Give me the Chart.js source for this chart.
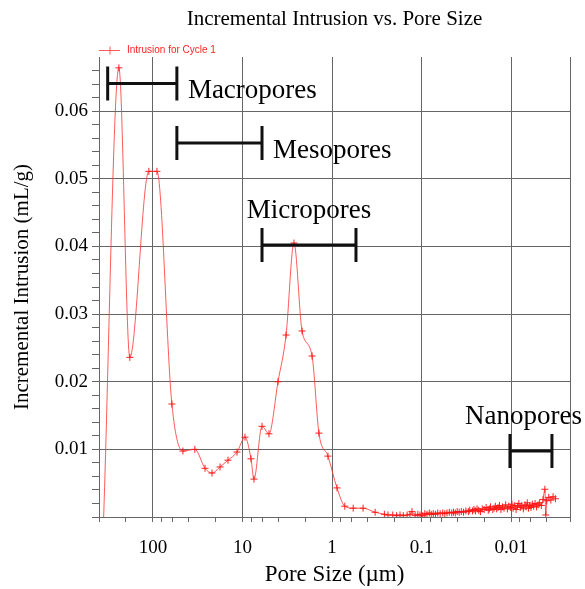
<!DOCTYPE html>
<html>
<head>
<meta charset="utf-8">
<title>Incremental Intrusion vs. Pore Size</title>
<script src="https://cdn.jsdelivr.net/npm/chart.js@4.4.1/dist/chart.umd.min.js"></script>
<style>
  html, body { margin: 0; padding: 0; background: #fff; }
  #wrap { width: 585px; height: 589px; }
</style>
</head>
<body>
<div id="wrap"><canvas id="poreChart"></canvas></div>
<script>
const chartTitle = 'Incremental Intrusion vs. Pore Size';
const seriesName = 'Intrusion for Cycle 1';

// pore diameter (µm), largest first, and incremental intrusion (mL/g)
const poreSize = [
  355, 240, 181, 111, 90.2, 61.4, 46.2, 34.0, 26.2, 21.9,
  17.8, 14.5, 11.5, 9.37, 8.03, 7.44, 6.05, 5.06, 4.01, 3.26,
  2.66, 2.16, 1.67, 1.40, 1.11, 0.88, 0.72, 0.58, 0.45, 0.33,
  0.26, 0.237, 0.21, 0.19, 0.174, 0.16, 0.145, 0.135, 0.128, 0.118,
  0.11, 0.104, 0.097, 0.092, 0.087, 0.082, 0.078, 0.074, 0.07, 0.066,
  0.062, 0.058, 0.055, 0.052, 0.049, 0.046, 0.044, 0.042, 0.04, 0.038,
  0.036, 0.034, 0.032, 0.03, 0.029, 0.027, 0.026, 0.025, 0.024, 0.023,
  0.022, 0.021, 0.020, 0.019, 0.018, 0.0175, 0.017, 0.016, 0.0155, 0.015,
  0.0145, 0.014, 0.0135, 0.013, 0.0125, 0.012, 0.0115, 0.011, 0.0106, 0.0102,
  0.0098, 0.0095, 0.0091, 0.0088, 0.0085, 0.0082, 0.0079, 0.0076, 0.0073, 0.0070,
  0.0068, 0.0066, 0.0064, 0.0062, 0.0060, 0.0058, 0.0056, 0.0054, 0.0052, 0.0050,
  0.0048, 0.0046, 0.0044, 0.0042, 0.0041, 0.0040, 0.0038, 0.0036, 0.0034, 0.0032
];
const intrusion = [
  0, 0.0664, 0.0236, 0.0511, 0.0511, 0.0167, 0.00975, 0.0100, 0.0072, 0.0065,
  0.0074, 0.0084, 0.0096, 0.0118, 0.0086, 0.0056, 0.0134, 0.0123, 0.0200, 0.0269,
  0.0405, 0.0275, 0.0238, 0.0124, 0.0090, 0.0043, 0.0016, 0.0013, 0.0013, 0.0007,
  0.0004, 0.0003, 0.0003, 0.0002, 0.0003, 0.0002, 0.0003, 0.0004, 0.0008, 0.0002,
  0.0004, 0.0003, 0.0002, 0.0005, 0.0004, 0.0006, 0.0004, 0.0005, 0.0004, 0.0006,
  0.0005, 0.0006, 0.0005, 0.0006, 0.0007, 0.0006, 0.0007, 0.0006, 0.0008, 0.0007,
  0.0008, 0.0007, 0.0009, 0.0008, 0.0010, 0.0009, 0.0011, 0.0009, 0.0012, 0.0010,
  0.0008, 0.0012, 0.0011, 0.0014, 0.0010, 0.0012, 0.0015, 0.0011, 0.0013, 0.0016,
  0.0012, 0.0014, 0.0017, 0.0011, 0.0015, 0.0013, 0.0018, 0.0012, 0.0016, 0.0014,
  0.0019, 0.0013, 0.0017, 0.0011, 0.0016, 0.0020, 0.0014, 0.0017, 0.0012, 0.0018,
  0.0015, 0.0021, 0.0013, 0.0017, 0.0014, 0.0019, 0.0016, 0.0020, 0.0015, 0.0018,
  0.0021, 0.0017, 0.0026, 0.0041, 0.0003, 0.0024, 0.0029, 0.0025, 0.0030, 0.0027
];

// axis range and ticks
const xMin = 0.0022;
const xMax = 400;
const xMajorTicks = [100, 10, 1, 0.1, 0.01];
const xMinorTicks = [400, 200, 80, 60, 40, 20, 8, 6, 4, 2, 0.8, 0.6, 0.4, 0.2,
  0.08, 0.06, 0.04, 0.02, 0.008, 0.006, 0.004];
const xTickLabels = ['100', '10', '1', '0.1', '0.01'];
const yMax = 0.068;
const yMajorTicks = [0.01, 0.02, 0.03, 0.04, 0.05, 0.06];
const yTickLabels = ['0.01', '0.02', '0.03', '0.04', '0.05', '0.06'];

// pore classes: size range (µm) and the intrusion level the bar sits at
const poreClasses = ['Macropores', 'Mesopores', 'Micropores', 'Nanopores'];
const classFrom = [320, 54, 6.05, 0.0103];
const classTo = [54, 6.05, 0.54, 0.0035];
const classLevel = [0.0641, 0.0553, 0.0402, 0.00975];

const gridColor = '#666';
const red = 'rgba(255, 20, 20, 0.95)';
const serif = '"Liberation Serif", "Times New Roman", serif';

const near = (a, b) => Math.abs(a - b) <= Math.abs(b) * 1e-6 + 1e-9;
const xLabel = v => {
  const i = xMajorTicks.findIndex(t => near(v, t));
  return i < 0 ? '' : xTickLabels[i];
};
const yLabel = v => {
  const i = yMajorTicks.findIndex(t => near(v, t));
  return i < 0 ? '' : yTickLabels[i];
};

// title and the small legend line above the plot
const header = {
  id: 'header',
  afterDraw(chart) {
    const {ctx, chartArea: a} = chart;
    ctx.save();
    ctx.fillStyle = '#000';
    ctx.font = '21px ' + serif;
    ctx.textAlign = 'center';
    ctx.textBaseline = 'alphabetic';
    ctx.fillText(chartTitle, (a.left + a.right) / 2, 25);

    const ly = a.top - 6.5;
    ctx.strokeStyle = chart.data.datasets[0].borderColor;
    ctx.lineWidth = 1;
    ctx.beginPath();
    ctx.moveTo(a.left, ly);
    ctx.lineTo(a.left + 21, ly);
    ctx.moveTo(a.left + 11, ly - 4);
    ctx.lineTo(a.left + 11, ly + 4);
    ctx.stroke();
    ctx.fillStyle = red;
    ctx.font = '10px "Liberation Sans", Arial, sans-serif';
    ctx.textAlign = 'left';
    ctx.textBaseline = 'middle';
    ctx.fillText(chart.data.datasets[0].label, a.left + 28, ly);
    ctx.restore();
  }
};

// range bars with end caps for each pore class
const rangeBars = {
  id: 'rangeBars',
  afterDatasetsDraw(chart) {
    const {ctx, scales: {x, y}} = chart;
    ctx.save();
    ctx.strokeStyle = '#111';
    ctx.lineWidth = 3;
    ctx.fillStyle = '#000';
    ctx.font = '27px ' + serif;
    ctx.textBaseline = 'alphabetic';
    poreClasses.forEach((name, i) => {
      const x1 = x.getPixelForValue(classFrom[i]);
      const x2 = x.getPixelForValue(classTo[i]);
      const py = y.getPixelForValue(classLevel[i]);
      ctx.beginPath();
      ctx.moveTo(x1, py);
      ctx.lineTo(x2, py);
      ctx.moveTo(x1, py - 17);
      ctx.lineTo(x1, py + 17);
      ctx.moveTo(x2, py - 17);
      ctx.lineTo(x2, py + 17);
      ctx.stroke();
      if (i < 2) {
        ctx.textAlign = 'left';
        ctx.fillText(name, x2 + 11, py + 15);
      } else {
        const w = ctx.measureText(name).width;
        const cx = Math.min((x1 + x2) / 2, chart.width - 3 - w / 2);
        ctx.textAlign = 'center';
        ctx.fillText(name, cx, py - 27);
      }
    });
    ctx.restore();
  }
};

new Chart(document.getElementById('poreChart'), {
  type: 'line',
  data: {
    datasets: [{
      label: seriesName,
      data: poreSize.map((s, i) => ({x: s, y: intrusion[i]})),
      borderColor: 'rgba(255, 50, 50, 0.8)',
      borderWidth: 1,
      pointStyle: 'cross',
      pointRadius: c => c.dataIndex === 0 ? 0 : 3.5,
      pointBorderColor: red,
      pointBorderWidth: 1,
      cubicInterpolationMode: 'monotone',
      fill: false
    }]
  },
  options: {
    responsive: true,
    maintainAspectRatio: false,
    animation: false,
    layout: { padding: { top: 57, right: 15, left: 0, bottom: 0 } },
    plugins: {
      legend: { display: false },
      title: { display: false },
      tooltip: { enabled: false }
    },
    scales: {
      x: {
        type: 'logarithmic',
        reverse: true,
        min: xMin,
        max: xMax,
        afterBuildTicks: scale => {
          scale.ticks = xMajorTicks.concat(xMinorTicks, [xMin])
            .sort((a, b) => b - a)
            .map(v => ({value: v}));
        },
        afterFit: scale => { scale.height = 72; },
        ticks: {
          autoSkip: false,
          maxRotation: 0,
          padding: 15,
          color: '#000',
          font: { family: serif, size: 19 },
          callback: v => xLabel(v)
        },
        grid: {
          color: c => c.tick && (xLabel(c.tick.value) !== '' || near(c.tick.value, xMin)) ? gridColor : 'rgba(0,0,0,0)',
          tickColor: gridColor,
          tickLength: 5
        },
        border: { display: true, color: gridColor },
        title: {
          display: true,
          text: 'Pore Size (µm)',
          color: '#000',
          font: { family: serif, size: 23 },
          padding: { top: 0, bottom: 0 }
        }
      },
      y: {
        min: 0,
        max: yMax,
        afterBuildTicks: scale => {
          const ticks = [];
          for (let k = 0; k <= 33; k++) ticks.push({value: k / 500});
          scale.ticks = ticks;
        },
        afterFit: scale => { scale.width = 99; },
        ticks: {
          autoSkip: false,
          padding: 4,
          color: '#000',
          font: { family: serif, size: 19 },
          callback: v => yLabel(v)
        },
        grid: {
          color: c => c.tick && yLabel(c.tick.value) !== '' ? gridColor : 'rgba(0,0,0,0)',
          tickColor: gridColor,
          tickLength: 7
        },
        border: { display: true, color: gridColor },
        title: {
          display: true,
          text: 'Incremental Intrusion (mL/g)',
          color: '#000',
          font: { family: serif, size: 21 },
          padding: { top: 10, bottom: 0 }
        }
      }
    }
  },
  plugins: [header, rangeBars]
});
</script>
</body>
</html>
